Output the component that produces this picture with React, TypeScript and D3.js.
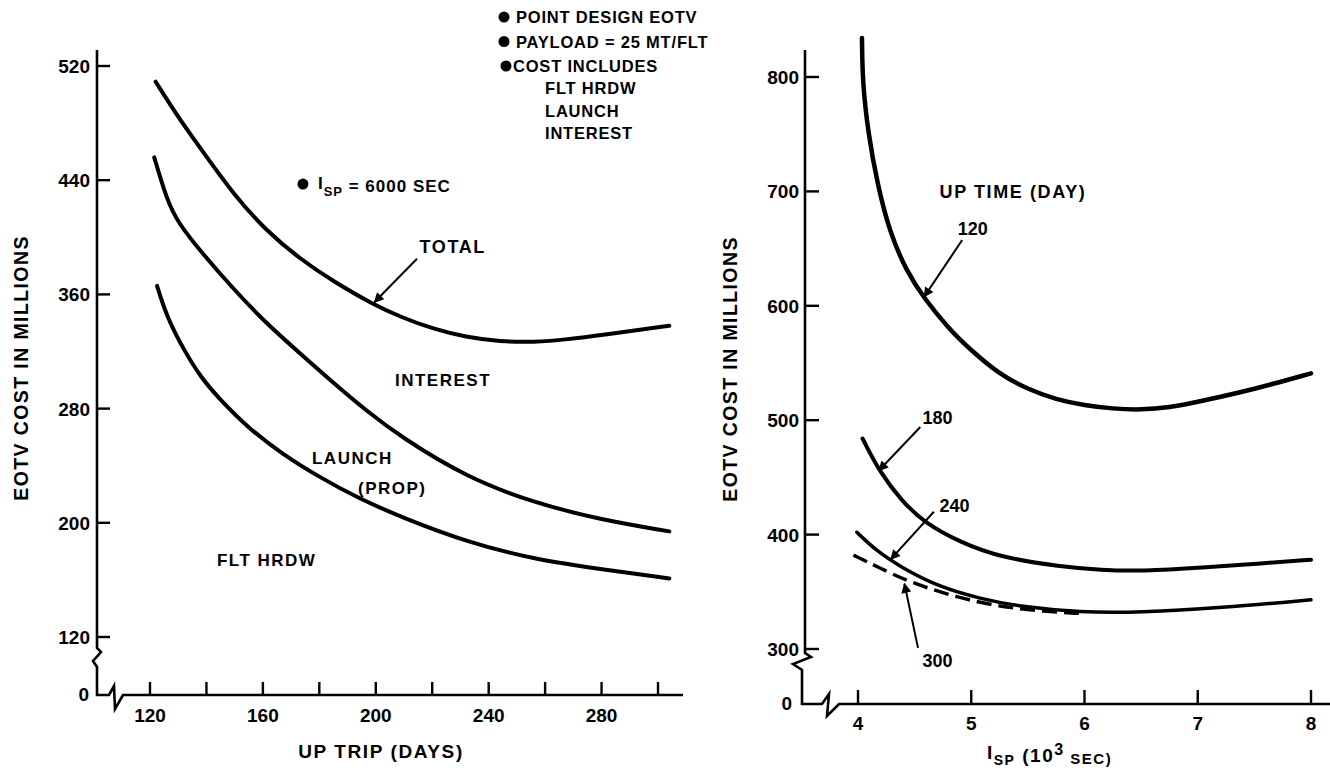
import React from "react";
import * as d3 from "d3";

// ---------- Left panel data (UP TRIP days vs EOTV cost) ----------
const leftXTicks = [120, 140, 160, 180, 200, 220, 240, 260, 280, 300];
const leftXLabels = [120, 160, 200, 240, 280];
const leftYTicks = [120, 200, 280, 360, 440, 520];

const totalDays = [122, 130, 138, 150, 161, 173, 185, 199, 209, 220, 232, 244, 256, 268, 280, 304];
const totalCost = [509, 484, 462, 429, 405, 385, 369, 353, 344, 336, 330, 327, 326.5, 328.5, 331.5, 338];

const launchDays = [121.5, 126, 130, 138, 149, 161, 173, 185, 197, 209, 232, 256, 280, 304];
const launchCost = [456, 426, 410, 390, 365, 340, 319, 298, 278, 260, 232, 214, 202, 194];

const hrdwDays = [122.5, 126, 132, 138, 144, 155, 167, 180, 194, 209, 233, 257, 282, 304];
const hrdwCost = [366, 344, 321, 302, 288, 266, 248, 232, 217, 204, 186, 174, 167, 161];

// ---------- Right panel data (ISP vs EOTV cost, by up time) ----------
const rightXTicks = [4, 5, 6, 7, 8];
const rightYTicks = [300, 400, 500, 600, 700, 800];

const isp120X = [4.035, 4.04, 4.09, 4.17, 4.28, 4.43, 4.58, 4.81, 5.0, 5.25, 5.5, 5.75, 6.0, 6.25, 6.5, 6.75, 7.0, 7.5, 8.0];
const isp120Y = [834, 795, 751, 707, 664, 630, 607, 579, 561, 540, 527, 518, 513, 510, 509, 511, 516, 527, 541];

const isp180X = [4.04, 4.19, 4.38, 4.59, 4.91, 5.26, 5.79, 6.15, 6.5, 7.04, 7.57, 8.0];
const isp180Y = [484, 455, 430, 410, 393, 380, 372, 369, 368, 371, 375, 378];

const isp240X = [3.99, 4.16, 4.37, 4.72, 5.08, 5.43, 5.96, 6.49, 7.2, 8.0];
const isp240Y = [402, 386, 372, 354, 344, 337, 332, 332, 336, 343];

const isp300X = [3.96, 4.19, 4.44, 4.87, 5.26, 5.61, 5.98];
const isp300Y = [382, 371, 359, 345, 337, 333, 331];

const legendLines = ["POINT DESIGN EOTV", "PAYLOAD = 25 MT/FLT", "COST INCLUDES"];
const legendSubLines = ["FLT HRDW", "LAUNCH", "INTEREST"];

const FONT = "'Liberation Sans', Arial, Helvetica, sans-serif";

export default function App() {
  const W = 1330;
  const H = 771;

  const xL = d3.scaleLinear().domain([120, 300]).range([150, 658]);
  const yL = d3.scaleLinear().domain([120, 520]).range([637, 66]);
  const xR = d3.scaleLinear().domain([4, 8]).range([858, 1311]);
  const yR = d3.scaleLinear().domain([300, 800]).range([649, 77]);

  const mk = (xs: number[], ys: number[], sx: any, sy: any) =>
    d3
      .line<number>()
      .x((_, i) => sx(xs[i]))
      .y((_, i) => sy(ys[i]))
      .curve(d3.curveBasis)(xs) || "";

  const lAxisX = 97;
  const lAxisY = 695;
  const rAxisX = 805;
  const rAxisY = 704;

  const txt = {
    fontFamily: FONT,
    fontWeight: 700 as const,
    fill: "#000",
  };

  const arrow = (x1: number, y1: number, x2: number, y2: number, key: string) => (
    <line key={key} x1={x1} y1={y1} x2={x2} y2={y2} stroke="#000" strokeWidth={2} markerEnd="url(#ah)" />
  );

  return (
    <svg width={W} height={H} style={{ position: "absolute", left: 0, top: 0, background: "#fff" }}>
      <defs>
        <marker id="ah" viewBox="0 0 10 10" refX="9" refY="5" markerWidth="6" markerHeight="5" orient="auto" markerUnits="strokeWidth">
          <path d="M0,0 L10,5 L0,10 z" fill="#000" />
        </marker>
      </defs>
      <rect x={0} y={0} width={W} height={H} fill="#fff" />

      {/* ================= LEFT PANEL ================= */}
      <path
        d={`M${lAxisX},50 L${lAxisX},648 L${lAxisX + 4},652 L${lAxisX - 4},661 L${lAxisX},667 L${lAxisX},${lAxisY} L${lAxisX + 12},${lAxisY} L${lAxisX + 17},${lAxisY - 9} L${lAxisX + 18},${lAxisY + 14} L${lAxisX + 26},${lAxisY} L683,${lAxisY}`}
        fill="none"
        stroke="#000"
        strokeWidth={2.6}
      />
      {leftYTicks.map((t) => (
        <g key={"ly" + t}>
          <line x1={lAxisX} x2={lAxisX + 13} y1={yL(t)} y2={yL(t)} stroke="#000" strokeWidth={2.4} />
          <text x={lAxisX - 7} y={yL(t) + 7} textAnchor="end" fontSize={19} {...txt}>
            {t}
          </text>
        </g>
      ))}
      <text x={lAxisX - 8} y={lAxisY + 6} textAnchor="end" fontSize={19} {...txt}>
        0
      </text>
      {leftXTicks.map((t) => (
        <line key={"lx" + t} x1={xL(t)} x2={xL(t)} y1={lAxisY} y2={lAxisY - 13} stroke="#000" strokeWidth={2.4} />
      ))}
      {leftXLabels.map((t) => (
        <text key={"lxl" + t} x={xL(t)} y={lAxisY + 27} textAnchor="middle" fontSize={19} {...txt}>
          {t}
        </text>
      ))}
      <text x={381} y={758} textAnchor="middle" fontSize={19} letterSpacing={1.6} {...txt}>
        UP TRIP (DAYS)
      </text>
      <text
        transform="translate(28,368) rotate(-90)"
        textAnchor="middle"
        fontSize={19.5}
        letterSpacing={1.4}
        {...txt}
      >
        EOTV COST IN MILLIONS
      </text>

      <path d={mk(totalDays, totalCost, xL, yL)} fill="none" stroke="#000" strokeWidth={4} strokeLinecap="round" />
      <path d={mk(launchDays, launchCost, xL, yL)} fill="none" stroke="#000" strokeWidth={4} strokeLinecap="round" />
      <path d={mk(hrdwDays, hrdwCost, xL, yL)} fill="none" stroke="#000" strokeWidth={4} strokeLinecap="round" />

      <text x={xL(215.5)} y={yL(389)} fontSize={18} letterSpacing={1.6} {...txt}>
        TOTAL
      </text>
      {arrow(xL(214.6), yL(385), xL(199.5), yL(354.5), "a-total")}
      <text x={xL(206.8)} y={yL(296)} fontSize={17} letterSpacing={1.5} {...txt}>
        INTEREST
      </text>
      <text x={xL(177.4)} y={yL(241)} fontSize={17} letterSpacing={1.5} {...txt}>
        LAUNCH
      </text>
      <text x={xL(193.7)} y={yL(220)} fontSize={17} letterSpacing={1.5} {...txt}>
        (PROP)
      </text>
      <text x={xL(143.7)} y={yL(170)} fontSize={17} letterSpacing={1.5} {...txt}>
        FLT HRDW
      </text>
      <circle cx={xL(174.2)} cy={yL(437.3)} r={5.5} fill="#000" />
      <text x={xL(179.5)} y={yL(432)} fontSize={17} letterSpacing={1} {...txt}>
        <tspan dy={-3}>I</tspan>
        <tspan dy={7} fontSize={13}>SP</tspan>
        <tspan dy={-4}> = 6000 SEC</tspan>
      </text>

      {legendLines.map((l, i) => (
        <g key={"lg" + i}>
          <circle cx={i === 2 ? 506 : 504} cy={17 + i * 24.5} r={5.5} fill="#000" />
          <text x={i === 2 ? 513 : 516} y={23 + i * 24.5} fontSize={16.5} letterSpacing={0.8} {...txt}>
            {l}
          </text>
        </g>
      ))}
      {legendSubLines.map((l, i) => (
        <text key={"lgs" + i} x={545} y={94 + i * 22.5} fontSize={16.5} letterSpacing={0.8} {...txt}>
          {l}
        </text>
      ))}

      {/* ================= RIGHT PANEL ================= */}
      <path
        d={`M${rAxisX},50 L${rAxisX},653 L${rAxisX + 6},657 L${rAxisX - 12},664 L${rAxisX - 3},670 L${rAxisX - 3},${rAxisY} L${rAxisX + 17},${rAxisY} L${rAxisX + 24},${rAxisY - 10} L${rAxisX + 22},${rAxisY + 12} L${rAxisX + 34},${rAxisY} L1330,${rAxisY}`}
        fill="none"
        stroke="#000"
        strokeWidth={2.6}
      />
      {rightYTicks.map((t) => (
        <g key={"ry" + t}>
          <line x1={rAxisX} x2={rAxisX + 14} y1={yR(t)} y2={yR(t)} stroke="#000" strokeWidth={2.4} />
          <text x={rAxisX - 6} y={yR(t) + 7} textAnchor="end" fontSize={19} {...txt}>
            {t}
          </text>
        </g>
      ))}
      <text x={rAxisX - 13} y={rAxisY + 6} textAnchor="end" fontSize={19} {...txt}>
        0
      </text>
      {rightXTicks.map((t) => (
        <g key={"rx" + t}>
          <line x1={xR(t)} x2={xR(t)} y1={rAxisY} y2={rAxisY - 14} stroke="#000" strokeWidth={2.4} />
          <text x={xR(t)} y={rAxisY + 26} textAnchor="middle" fontSize={19} {...txt}>
            {t}
          </text>
        </g>
      ))}
      <text x={987} y={762} fontSize={19} letterSpacing={1.5} {...txt}>
        <tspan dy={-3}>I</tspan>
        <tspan dy={6} fontSize={14}>SP</tspan>
        <tspan dy={-3}>  (10</tspan>
        <tspan dy={-7} fontSize={16}>3</tspan>
        <tspan dy={9} fontSize={15}> SEC)</tspan>
      </text>
      <text
        transform="translate(737,369) rotate(-90)"
        textAnchor="middle"
        fontSize={19.5}
        letterSpacing={1.4}
        {...txt}
      >
        EOTV COST  IN MILLIONS
      </text>

      <path d={mk(isp120X, isp120Y, xR, yR)} fill="none" stroke="#000" strokeWidth={4.5} strokeLinecap="round" />
      <path d={mk(isp180X, isp180Y, xR, yR)} fill="none" stroke="#000" strokeWidth={4} strokeLinecap="round" />
      <path d={mk(isp240X, isp240Y, xR, yR)} fill="none" stroke="#000" strokeWidth={3.5} strokeLinecap="round" />
      <path d={mk(isp300X, isp300Y, xR, yR)} fill="none" stroke="#000" strokeWidth={3.5} strokeDasharray="15 7" />

      <text x={xR(4.72)} y={yR(694)} fontSize={18} letterSpacing={1.6} {...txt}>
        UP TIME (DAY)
      </text>
      <text x={xR(4.88)} y={yR(662)} fontSize={18} {...txt}>
        120
      </text>
      {arrow(xR(4.92), yR(657.5), xR(4.585), yR(608), "a120")}
      <text x={xR(4.57)} y={yR(496.7)} fontSize={18} {...txt}>
        180
      </text>
      {arrow(xR(4.55), yR(494), xR(4.185), yR(456), "a180")}
      <text x={xR(4.72)} y={yR(419.8)} fontSize={18} {...txt}>
        240
      </text>
      {arrow(xR(4.67), yR(420), xR(4.29), yR(378.5), "a240")}
      <text x={xR(4.57)} y={yR(284)} fontSize={18} {...txt}>
        300
      </text>
      {arrow(xR(4.53), yR(301), xR(4.41), yR(357), "a300")}
    </svg>
  );
}
